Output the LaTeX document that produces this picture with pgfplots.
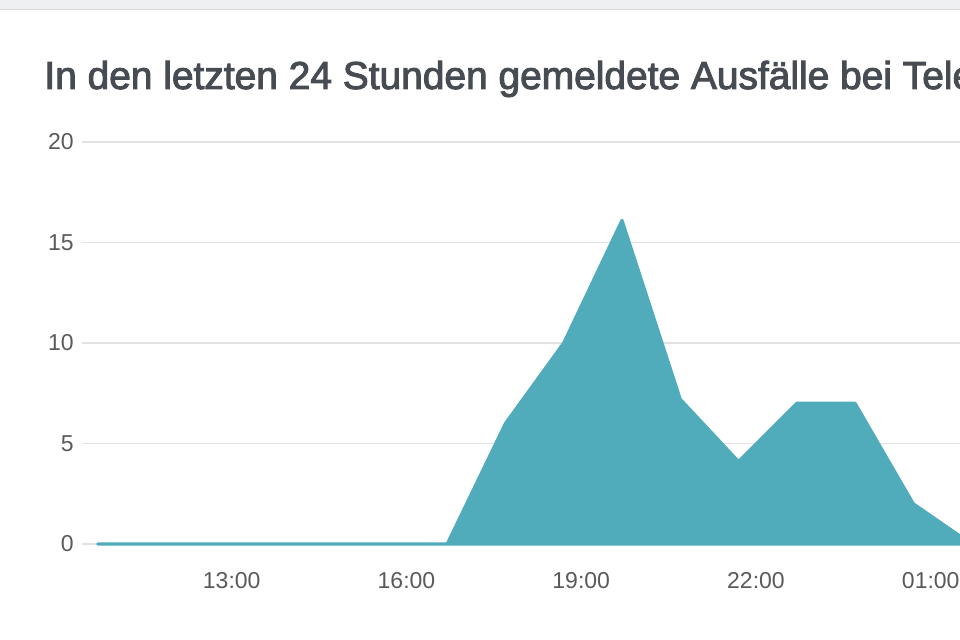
\documentclass[border=0pt]{standalone}
\usepackage{pgfplots}
\pgfplotsset{compat=1.18}
\usepackage{fontspec}
\setmainfont{Liberation Sans}
\newfontfamily\titlefont[FakeBold=2.5]{Liberation Sans}
\definecolor{areac}{RGB}{80,171,187}
\definecolor{gridc}{RGB}{226,226,226}
\definecolor{ticklab}{RGB}{90,90,90}
\definecolor{titlec}{RGB}{70,76,82}
\definecolor{stripc}{RGB}{239,240,242}
\definecolor{striplinec}{RGB}{218,218,218}
\begin{document}
\begin{tikzpicture}
\useasboundingbox (0,0) rectangle (480pt,320pt);
\clip (0,0) rectangle (480pt,320pt);
\fill[white] (0,0) rectangle (480pt,320pt);
\fill[stripc] (0,315.5pt) rectangle (480pt,320pt);
\draw[striplinec, line width=0.8pt] (0,315.2pt) -- (480pt,315.2pt);
\node[anchor=base west, inner sep=0pt, text=titlec, font=\titlefont\fontsize{19.45pt}{22pt}\selectfont] at (22pt,275.5pt) {In den letzten 24 Stunden gemeldete Ausfälle bei Tele};
\begin{axis}[
  at={(41pt,48pt)}, anchor=south west,
  scale only axis, width=453.5pt, height=201pt,
  xmin=10.43, xmax=26, ymin=0, ymax=20,
  axis line style={draw=none}, major tick length=0pt,
  ytick={0,5,10,15,20}, ymajorgrids,
  grid style={gridc, line width=0.9pt},
  xtick={13,16,19,22,25}, xticklabels={13:00,16:00,19:00,22:00,01:00},
  tick label style={font=\fontsize{11.5pt}{13pt}\selectfont, text=ticklab},
  xticklabel style={anchor=north, inner sep=0pt, yshift=-14pt},
  yticklabel style={anchor=east, inner sep=0pt, xshift=-4pt},
  /pgf/number format/assume math mode=true,
  clip=false,
]
\addplot[fill=areac, draw=areac, line width=1.6pt, line join=round] coordinates {
  (10.7,0) (11.7,0) (12.7,0) (13.7,0) (14.7,0) (15.7,0) (16.7,0)
  (17.7,6) (18.7,10) (19.7,16.1) (20.7,7.2) (21.7,4.1) (22.7,7.0)
  (23.7,7.0) (24.7,2.0) (25.7,0)
} \closedcycle;
\end{axis}
\end{tikzpicture}
\end{document}
